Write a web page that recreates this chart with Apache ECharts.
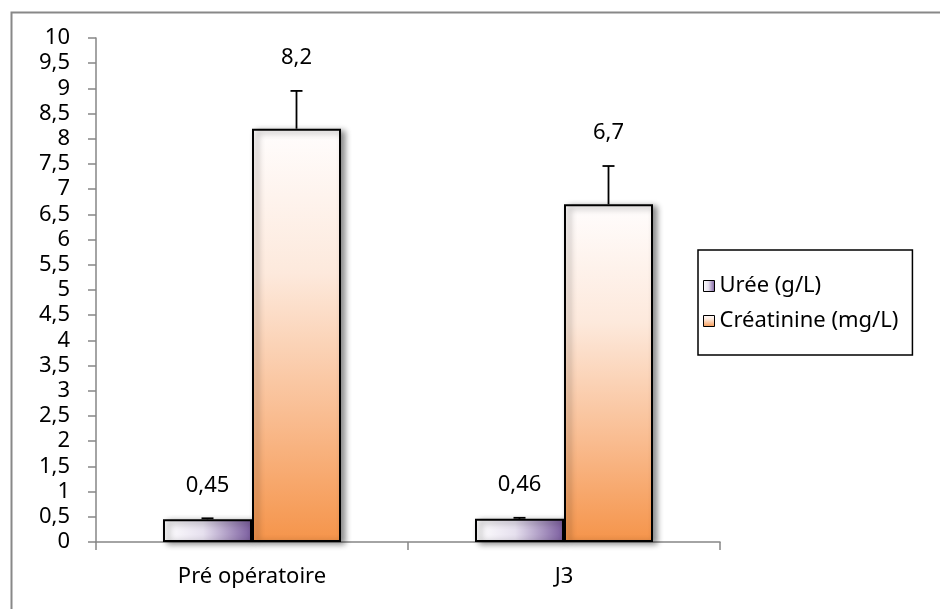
<!DOCTYPE html>
<html>
<head>
<meta charset="utf-8">
<script src="https://cdn.jsdelivr.net/npm/echarts@6/dist/echarts.min.js"></script>
<style>
  html, body { margin: 0; padding: 0; background: #fff; }
  #chart { width: 940px; height: 609px; }
</style>
</head>
<body>
<div id="chart"></div>
<script>
const categories = ['Pré opératoire', 'J3'];
const seriesNames = ['Urée (g/L)', 'Créatinine (mg/L)'];
const uree = [0.45, 0.46];
const creatinine = [8.2, 6.7];
const ureeErr = [0.02, 0.02];
const creatinineErr = [0.75, 0.76];
const yTicks = [0, 10, 0.5];

const FONT = '"Noto Sans"';
const FS = 22;
const BAR_W = 89;
const chart = echarts.init(document.getElementById('chart'));

const fmt = v => String(v).replace('.', ',');

// error bar (upper half only visible) + label above it
function errorSeries(name, values, errs, side) {
  return {
    type: 'custom',
    name: name + ' err',
    z: 5,
    silent: true,
    data: values.map((v, i) => [i, v, errs[i]]),
    renderItem(params, api) {
      const i = api.value(0);
      const v = api.value(1);
      const e = api.value(2);
      const base = api.coord([i, v]);
      const top = api.coord([i, v + e]);
      const x = base[0] + side * BAR_W / 2;
      return {
        type: 'group',
        children: [
          { type: 'line', shape: { x1: x, y1: base[1], x2: x, y2: top[1] },
            style: { stroke: '#000', lineWidth: 1.8 } },
          { type: 'line', shape: { x1: x - 6, y1: top[1], x2: x + 6, y2: top[1] },
            style: { stroke: '#000', lineWidth: 1.8 } },
          { type: 'text', x: x, y: top[1] - 33,
            style: { text: fmt(v), fill: '#000', font: FS + 'px ' + FONT,
                     align: 'center', verticalAlign: 'middle' } }
        ]
      };
    }
  };
}

const option = {
  animation: false,
  backgroundColor: '#fff',
  graphic: [{
    type: 'rect', left: 9, top: 10,
    shape: { width: 1000, height: 1000 },
    style: { fill: 'none', stroke: '#888', lineWidth: 2 }
  }],
  grid: { left: 96, right: 220, top: 38, bottom: 67 },
  legend: {
    orient: 'vertical',
    left: 698, top: 250,
    padding: [25, 14, 23, 5],
    itemGap: 13,
    itemWidth: 11, itemHeight: 11,
    borderColor: '#000', borderWidth: 1.5,
    textStyle: { fontFamily: 'Noto Sans', fontSize: FS, color: '#000', padding: [0, 0, 0, 0] },
    data: seriesNames.map(n => ({ name: n, icon: 'rect', itemStyle: { borderColor: '#000', borderWidth: 1, shadowBlur: 0, shadowOffsetX: 0, shadowOffsetY: 0 } }))
  },
  xAxis: {
    type: 'category',
    data: categories,
    axisLine: { lineStyle: { color: '#868686', width: 1.5 } },
    axisTick: { show: true, length: 8, lineStyle: { color: '#868686', width: 1.5 } },
    axisLabel: { fontFamily: 'Noto Sans', fontSize: FS, color: '#000', margin: 24 }
  },
  yAxis: {
    type: 'value',
    min: yTicks[0], max: yTicks[1], interval: yTicks[2],
    splitLine: { show: false },
    axisLine: { show: true, lineStyle: { color: '#868686', width: 1.5 } },
    axisTick: { show: true, length: 8, lineStyle: { color: '#868686', width: 1.5 } },
    axisLabel: { fontFamily: 'Noto Sans', fontSize: FS, color: '#000', margin: 26, formatter: fmt }
  },
  series: [
    {
      name: seriesNames[0],
      type: 'bar',
      data: uree,
      barWidth: BAR_W,
      barGap: '0%',
      itemStyle: {
        color: new echarts.graphic.LinearGradient(0, 0, 1, 0, [
          { offset: 0, color: '#ffffff' },
          { offset: 0.45, color: '#e6e0ee' },
          { offset: 1, color: '#7a5c9e' }
        ]),
        borderColor: '#000', borderWidth: 2,
        shadowColor: 'rgba(0,0,0,0.45)', shadowBlur: 6, shadowOffsetX: 4, shadowOffsetY: 2
      }
    },
    {
      name: seriesNames[1],
      type: 'bar',
      data: creatinine,
      barWidth: BAR_W,
      itemStyle: {
        color: new echarts.graphic.LinearGradient(0, 0, 0, 1, [
          { offset: 0, color: '#fffdfd' },
          { offset: 0.35, color: '#fde9dc' },
          { offset: 0.7, color: '#f9bc90' },
          { offset: 1, color: '#f5944a' }
        ]),
        borderColor: '#000', borderWidth: 2,
        shadowColor: 'rgba(0,0,0,0.45)', shadowBlur: 6, shadowOffsetX: 4, shadowOffsetY: 2
      }
    },
    errorSeries(seriesNames[0], uree, ureeErr, -1),
    errorSeries(seriesNames[1], creatinine, creatinineErr, 1)
  ]
};

chart.setOption(option);
</script>
</body>
</html>
